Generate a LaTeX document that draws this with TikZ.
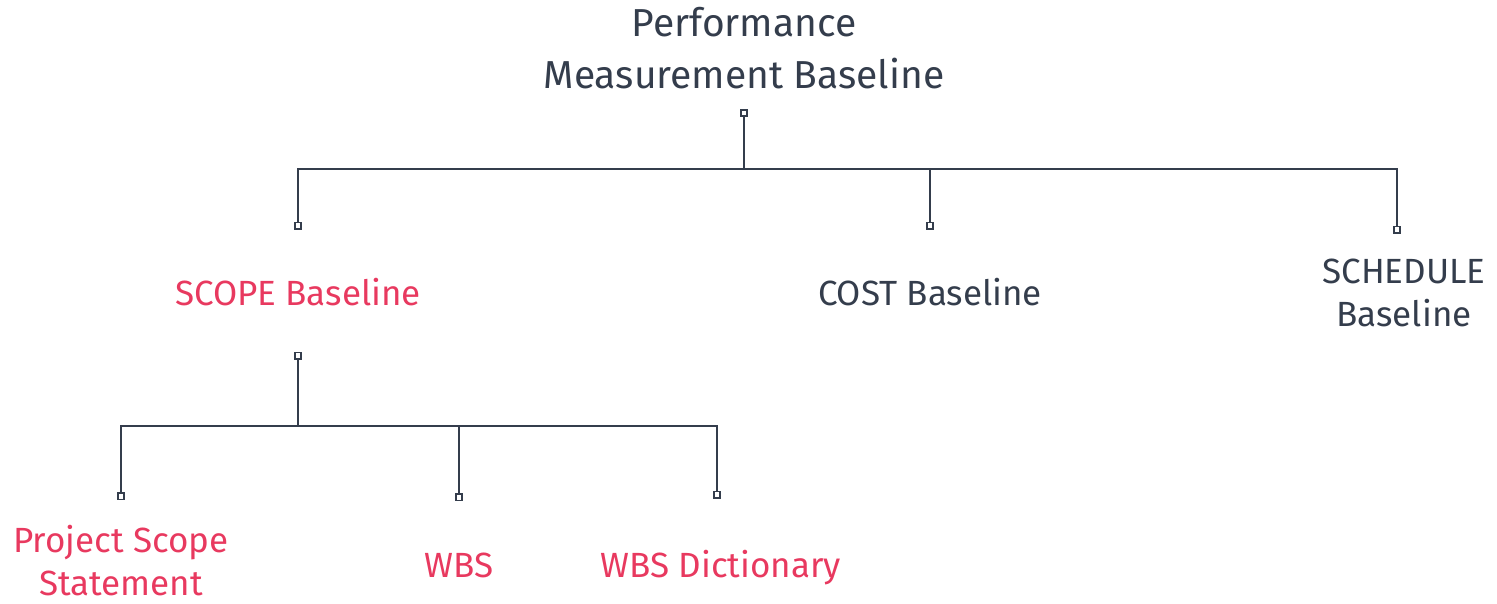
\documentclass[tikz,border=0pt]{standalone}
\usepackage{fontspec}
\setmainfont{Fira Sans}
\usepackage{tikz}
\usetikzlibrary {arrows.meta}
\definecolor{slate}{HTML}{343D4C}
\definecolor{rose}{HTML}{E8395F}
\tikzset{
	box/.style = {inner sep=0pt, align=center, text=slate, font=\fontsize{35}{43}\selectfont},
	hot/.style = {box, text=rose},
	link/.style = {draw=slate, line width=2pt, arrows = {Square[open, length=8pt, width=8pt, line width=1.6pt]-Square[open, length=8pt, width=8pt, line width=1.6pt]}}
}

\begin{document}
\begin{tikzpicture}[x=1pt, y=-1pt]
		\useasboundingbox (0, 0) rectangle (1497, 603);
		\node[box, font=\fontsize{39}{52}\selectfont] (pmb) at (744, 48) {Performance\\Measurement Baseline};
		\node[hot, anchor=base] (scope) at (298, 305) {SCOPE Baseline};
		\node[box, anchor=base] (cost) at (930, 305) {COST Baseline};
		\node[box] (sched) at (1404, 293) {SCHEDULE\\Baseline};
		\node[hot] (pss) at (121, 561) {Project Scope\\Statement};
		\node[hot, anchor=base] (wbs) at (459, 577) {WBS};
		\node[hot, anchor=base] (dict) at (721, 577) {WBS Dictionary};
		\draw[link] ([yshift=-20pt]pmb.south) -- ++(0, 60) -| ([yshift=48pt]scope.north);
		\draw[link] ([yshift=-20pt]pmb.south) -- ++(0, 60) -| ([yshift=48pt]cost.north);
		\draw[link] ([yshift=-20pt]pmb.south) -- ++(0, 60) -| ([xshift=-7pt, yshift=25pt]sched.north);
		\draw[link] ([yshift=-46pt]scope.south) -- ++(0, 74) -| ([yshift=25pt]pss.north);
		\draw[link] ([yshift=-46pt]scope.south) -- ++(0, 74) -| ([yshift=51pt]wbs.north);
		\draw[link] ([yshift=-46pt]scope.south) -- ++(0, 74) -| ([xshift=-4pt, yshift=51pt]dict.north);
	\end{tikzpicture}
\end{document}
